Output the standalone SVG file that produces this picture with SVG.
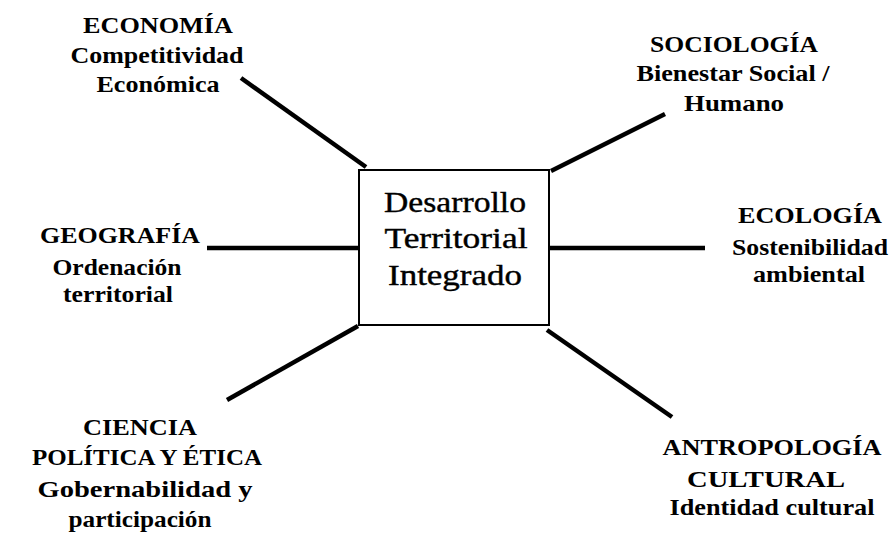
<svg xmlns="http://www.w3.org/2000/svg" width="893" height="533" viewBox="0 0 893 533">
<style>
.lbl{font-family:'Liberation Serif','Times New Roman',serif;font-weight:bold;font-size:24px;fill:#000;text-anchor:middle}
.ctr{font-family:'Liberation Serif','Times New Roman',serif;font-size:29px;fill:#000;stroke:#000;stroke-width:0.4;text-anchor:middle}
.con{stroke:#000;stroke-width:4.5;fill:none}
</style>
<rect width="893" height="533" fill="#fff"/>
<g id="connectors">
<line class="con" x1="241" y1="78" x2="366" y2="167"/>
<line class="con" x1="665" y1="114" x2="551" y2="171"/>
<line class="con" x1="207" y1="248" x2="359" y2="248"/>
<line class="con" x1="550" y1="248" x2="705" y2="248"/>
<line class="con" x1="227" y1="400" x2="358" y2="326"/>
<line class="con" x1="547" y1="330" x2="672" y2="417"/>
</g>
<g id="center">
<rect x="359" y="170" width="190" height="155" fill="#fff" stroke="#000" stroke-width="2"/>
<text class="ctr" x="455" y="212" textLength="142" lengthAdjust="spacingAndGlyphs">Desarrollo</text>
<text class="ctr" x="456" y="248" textLength="143" lengthAdjust="spacingAndGlyphs">Territorial</text>
<text class="ctr" x="455" y="285" textLength="134" lengthAdjust="spacingAndGlyphs">Integrado</text>
</g>
<g id="economia">
<text class="lbl" x="158" y="33" textLength="150" lengthAdjust="spacingAndGlyphs">ECONOMÍA</text>
<text class="lbl" x="157" y="63" textLength="173" lengthAdjust="spacingAndGlyphs">Competitividad</text>
<text class="lbl" x="158" y="92" textLength="123" lengthAdjust="spacingAndGlyphs">Económica</text>
</g>
<g id="sociologia">
<text class="lbl" x="734" y="52" textLength="168" lengthAdjust="spacingAndGlyphs">SOCIOLOGÍA</text>
<text class="lbl" x="733" y="81" textLength="193" lengthAdjust="spacingAndGlyphs">Bienestar Social /</text>
<text class="lbl" x="734" y="111" textLength="100" lengthAdjust="spacingAndGlyphs">Humano</text>
</g>
<g id="geografia">
<text class="lbl" x="120" y="243" textLength="160" lengthAdjust="spacingAndGlyphs">GEOGRAFÍA</text>
<text class="lbl" x="117" y="275" textLength="129" lengthAdjust="spacingAndGlyphs">Ordenación</text>
<text class="lbl" x="118" y="302" textLength="110" lengthAdjust="spacingAndGlyphs">territorial</text>
</g>
<g id="ecologia">
<text class="lbl" x="810" y="223" textLength="144" lengthAdjust="spacingAndGlyphs">ECOLOGÍA</text>
<text class="lbl" x="810" y="255" textLength="156" lengthAdjust="spacingAndGlyphs">Sostenibilidad</text>
<text class="lbl" x="809" y="282" textLength="112" lengthAdjust="spacingAndGlyphs">ambiental</text>
</g>
<g id="ciencia">
<text class="lbl" x="140" y="435" textLength="114" lengthAdjust="spacingAndGlyphs">CIENCIA</text>
<text class="lbl" x="147" y="465" textLength="230" lengthAdjust="spacingAndGlyphs">POLÍTICA Y ÉTICA</text>
<text class="lbl" x="145" y="497" textLength="215" lengthAdjust="spacingAndGlyphs">Gobernabilidad y</text>
<text class="lbl" x="140" y="527" textLength="143" lengthAdjust="spacingAndGlyphs">participación</text>
</g>
<g id="antropologia">
<text class="lbl" x="772" y="455" textLength="219" lengthAdjust="spacingAndGlyphs">ANTROPOLOGÍA</text>
<text class="lbl" x="766" y="487" textLength="158" lengthAdjust="spacingAndGlyphs">CULTURAL</text>
<text class="lbl" x="772" y="515" textLength="205" lengthAdjust="spacingAndGlyphs">Identidad cultural</text>
</g>
</svg>
